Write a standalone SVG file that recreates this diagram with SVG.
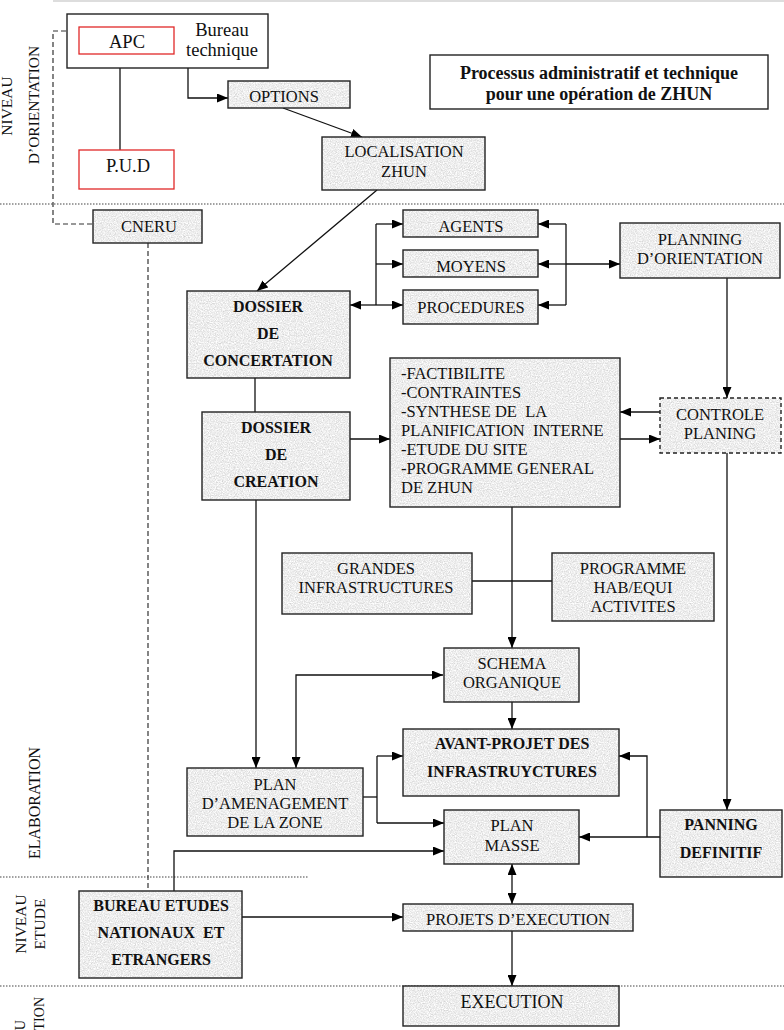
<svg xmlns="http://www.w3.org/2000/svg" width="784" height="1030" viewBox="0 0 784 1030">
<defs>
<filter id="grain" x="0" y="0" width="100%" height="100%" color-interpolation-filters="sRGB">
<feTurbulence type="fractalNoise" baseFrequency="0.85" numOctaves="2" seed="7" stitchTiles="stitch" result="n"/>
<feColorMatrix in="n" type="matrix" values="0.3 0 0 0 0.78  0.3 0 0 0 0.78  0.3 0 0 0 0.78  0 0 0 0 1"/>
</filter>
<pattern id="tex" patternUnits="userSpaceOnUse" width="200" height="200">
<rect width="200" height="200" fill="#ebebeb" filter="url(#grain)"/>
</pattern>
<marker id="arr" viewBox="0 0 11 9" refX="11" refY="4.5" markerWidth="11" markerHeight="9" markerUnits="userSpaceOnUse" orient="auto-start-reverse">
<path d="M0,0 L11,4.5 L0,9 z" fill="#000"/>
</marker>
<style>
.box{fill:url(#tex);stroke:#222;stroke-width:1.4}
.wbox{fill:#fff;stroke:#222;stroke-width:1.4}
.rbox{fill:#fff;stroke:#e02828;stroke-width:1.3}
.dbox{fill:url(#tex);stroke:#222;stroke-width:1.4;stroke-dasharray:4,3}
text{font-family:"Liberation Serif","Times New Roman",serif;fill:#111}
.t{font-size:16.5px;text-anchor:middle}
.tl{font-size:16.5px;text-anchor:start}
.big{font-size:18.5px;text-anchor:middle}
.b{font-size:16px;font-weight:bold;text-anchor:middle}
.lab{font-size:15.5px;text-anchor:middle}
.c{fill:none;stroke:#111;stroke-width:1.3}
.ca{fill:none;stroke:#111;stroke-width:1.3;marker-end:url(#arr)}
.cb{fill:none;stroke:#111;stroke-width:1.3;marker-end:url(#arr);marker-start:url(#arr)}
.dash{fill:none;stroke:#333;stroke-width:1.2;stroke-dasharray:5,3}
.dot{fill:none;stroke:#444;stroke-width:1.2;stroke-dasharray:1.5,1.5}
</style>
</defs>
<rect width="784" height="1030" fill="#fff"/>
<line x1="53" y1="1" x2="784" y2="1" stroke="#ddd" stroke-width="2"/>

<g id="separators">
<line class="dot" x1="0" y1="204" x2="784" y2="204"/>
<line class="dot" x1="0" y1="877" x2="308" y2="877"/>
<line class="dot" x1="0" y1="986" x2="784" y2="986"/>
</g>

<g id="levels">
<text class="lab" transform="translate(12,106) rotate(-90)">NIVEAU</text>
<text class="lab" transform="translate(39,105) rotate(-90)">D’ORIENTATION</text>
<text class="lab" style="font-size:16px" transform="translate(40,803) rotate(-90)">ELABORATION</text>
<text class="lab" transform="translate(26,924) rotate(-90)">NIVEAU</text>
<text class="lab" transform="translate(45,924) rotate(-90)">ETUDE</text>
<text class="lab" style="text-anchor:end;font-size:14px" transform="translate(25,1020) rotate(-90)">U</text>
<text class="lab" style="text-anchor:end;font-size:14px" transform="translate(44,997) rotate(-90)">TION</text>
</g>

<g id="connectors">
<path class="c" d="M120,68 V150"/>
<path class="ca" d="M188,68 V98 H228"/>
<path class="ca" d="M283,108 L362,137"/>
<path class="dash" d="M66,31 H53 V224 H93"/>
<path class="dash" d="M148,243 V891"/>
<path class="ca" d="M377,190 L257,291"/>
<path class="c" d="M376,224 V305"/>
<path class="ca" d="M376,224 H403"/>
<path class="ca" d="M376,264 H403"/>
<path class="ca" d="M376,305 H403"/>
<path class="ca" d="M376,305 H350"/>
<path class="c" d="M566,224 V305"/>
<path class="ca" d="M566,224 H538"/>
<path class="ca" d="M566,264 H538"/>
<path class="ca" d="M566,305 H538"/>
<path class="ca" d="M566,264 H620"/>
<path class="ca" d="M727,278 V398"/>
<path class="c" d="M255,378 V412"/>
<path class="ca" d="M350,439 H390"/>
<path class="ca" d="M660,412 H620"/>
<path class="ca" d="M620,439 H660"/>
<path class="ca" d="M512,507 V648"/>
<path class="c" d="M472,581 H552"/>
<path class="ca" d="M256,500 V768"/>
<path class="cb" d="M443,675 H296 V768"/>
<path class="ca" d="M512,702 V729"/>
<path class="c" d="M363,797 H377"/>
<path class="c" d="M377,756 V823"/>
<path class="ca" d="M377,756 H403"/>
<path class="ca" d="M377,823 H444"/>
<path class="ca" d="M727,453 V810"/>
<path class="ca" d="M660,837 H579"/>
<path class="ca" d="M647,837 V756 H619"/>
<path class="ca" d="M174,891 V851 H444"/>
<path class="cb" d="M512,864 V904"/>
<path class="ca" d="M242,917 H403"/>
<path class="ca" d="M512,931 V986"/>
</g>

<g id="bureau-technique">
<rect class="wbox" x="67" y="14" width="201" height="54"/>
<text class="big" x="222" y="36">Bureau</text>
<text class="big" x="222" y="56">technique</text>
</g>
<g id="apc">
<rect class="rbox" x="79" y="27" width="95" height="27"/>
<text class="big" x="127" y="48">APC</text>
</g>
<g id="pud">
<rect class="rbox" x="79" y="150" width="95" height="39"/>
<text class="big" x="128" y="172">P.U.D</text>
</g>
<g id="title">
<rect class="wbox" x="430" y="55" width="338" height="54"/>
<text class="t" style="font-weight:bold;font-size:18px" x="599" y="79">Processus administratif et technique</text>
<text class="t" style="font-weight:bold;font-size:18px" x="599" y="100">pour une opération de ZHUN</text>
</g>
<g id="options">
<rect class="box" x="228" y="81" width="122" height="27"/>
<text class="t" x="284" y="102">OPTIONS</text>
</g>
<g id="localisation">
<rect class="box" x="322" y="137" width="163" height="53"/>
<text class="t" x="404" y="157">LOCALISATION</text>
<text class="t" x="404" y="177">ZHUN</text>
</g>
<g id="cneru">
<rect class="box" x="93" y="210" width="109" height="33"/>
<text class="t" x="149" y="232">CNERU</text>
</g>
<g id="agents">
<rect class="box" x="403" y="210" width="135" height="27"/>
<text class="t" x="471" y="232">AGENTS</text>
</g>
<g id="moyens">
<rect class="box" x="403" y="250" width="135" height="27"/>
<text class="t" x="471" y="272">MOYENS</text>
</g>
<g id="procedures">
<rect class="box" x="403" y="290" width="135" height="34"/>
<text class="t" x="471" y="313">PROCEDURES</text>
</g>
<g id="planning-orientation">
<rect class="box" x="620" y="223" width="160" height="55"/>
<text class="t" x="700" y="245">PLANNING</text>
<text class="t" x="700" y="264">D’ORIENTATION</text>
</g>
<g id="dossier-concertation">
<rect class="box" x="187" y="291" width="163" height="87"/>
<text class="b" x="268" y="312">DOSSIER</text>
<text class="b" x="268" y="339">DE</text>
<text class="b" x="268" y="366">CONCERTATION</text>
</g>
<g id="dossier-creation">
<rect class="box" x="202" y="412" width="148" height="88"/>
<text class="b" x="276" y="433">DOSSIER</text>
<text class="b" x="276" y="460">DE</text>
<text class="b" x="276" y="487">CREATION</text>
</g>
<g id="etudes">
<rect class="box" x="390" y="358" width="230" height="149"/>
<text class="tl" x="401" y="379">-FACTIBILITE</text>
<text class="tl" x="401" y="398">-CONTRAINTES</text>
<text class="tl" x="401" y="417" xml:space="preserve">-SYNTHESE DE  LA</text>
<text class="tl" x="401" y="436" xml:space="preserve">PLANIFICATION  INTERNE</text>
<text class="tl" x="401" y="455">-ETUDE DU SITE</text>
<text class="tl" x="401" y="474">-PROGRAMME GENERAL</text>
<text class="tl" x="401" y="493">DE ZHUN</text>
</g>
<g id="controle">
<rect class="dbox" x="660" y="398" width="121" height="55"/>
<text class="t" x="720" y="420">CONTROLE</text>
<text class="t" x="720" y="439">PLANING</text>
</g>
<g id="grandes">
<rect class="box" x="282" y="553" width="190" height="61"/>
<text class="t" x="376" y="574">GRANDES</text>
<text class="t" x="376" y="593">INFRASTRUCTURES</text>
</g>
<g id="programme">
<rect class="box" x="552" y="553" width="162" height="68"/>
<text class="t" x="633" y="574">PROGRAMME</text>
<text class="t" x="633" y="593">HAB/EQUI</text>
<text class="t" x="633" y="612">ACTIVITES</text>
</g>
<g id="schema">
<rect class="box" x="444" y="648" width="135" height="54"/>
<text class="t" x="512" y="669">SCHEMA</text>
<text class="t" x="512" y="688">ORGANIQUE</text>
</g>
<g id="avant-projet">
<rect class="box" x="403" y="729" width="216" height="67"/>
<text class="b" x="512" y="749">AVANT-PROJET DES</text>
<text class="b" x="512" y="777">INFRASTRUYCTURES</text>
</g>
<g id="plan-amenagement">
<rect class="box" x="187" y="768" width="176" height="68"/>
<text class="t" x="275" y="790">PLAN</text>
<text class="t" x="275" y="809">D’AMENAGEMENT</text>
<text class="t" x="275" y="828">DE LA ZONE</text>
</g>
<g id="plan-masse">
<rect class="box" x="444" y="810" width="135" height="54"/>
<text class="t" x="512" y="831">PLAN</text>
<text class="t" x="512" y="851">MASSE</text>
</g>
<g id="panning-definitif">
<rect class="box" x="660" y="810" width="122" height="67"/>
<text class="b" x="721" y="830">PANNING</text>
<text class="b" x="721" y="858">DEFINITIF</text>
</g>
<g id="bureau-etudes">
<rect class="box" x="79" y="891" width="163" height="87"/>
<text class="b" x="161" y="911">BUREAU ETUDES</text>
<text class="b" x="161" y="938" xml:space="preserve">NATIONAUX  ET</text>
<text class="b" x="161" y="965">ETRANGERS</text>
</g>
<g id="projets">
<rect class="box" x="403" y="904" width="230" height="27"/>
<text class="t" x="518" y="925">PROJETS D’EXECUTION</text>
</g>
<g id="execution">
<rect class="box" x="403" y="986" width="216" height="40"/>
<text class="t" style="font-size:18px" x="512" y="1008">EXECUTION</text>
</g>
</svg>
